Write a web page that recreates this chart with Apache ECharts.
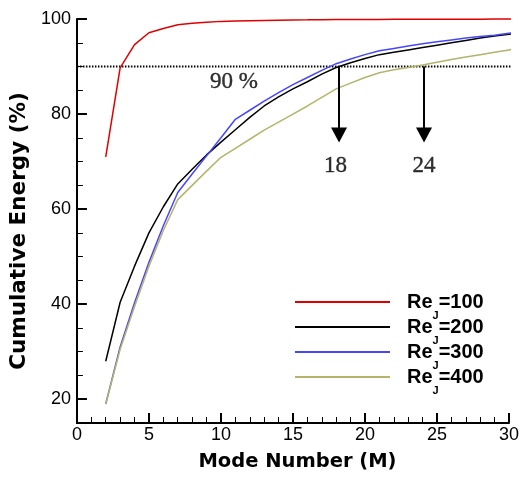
<!DOCTYPE html>
<html>
<head>
<meta charset="utf-8">
<script src="https://cdn.jsdelivr.net/npm/echarts@6/dist/echarts.min.js"></script>
<style>
html,body{margin:0;padding:0;background:#fff;}
#chart{width:530px;height:479px;}
</style>
</head>
<body>
<div id="chart"></div>
<script>
// ---- data ----
const modes = [2,3,4,5,6,7,8,9,10,11,12,13,14,15,16,17,18,19,20,21,22,23,24,25,26,27,28,29,30,30.5];
const re100 = [71.0,89.7,94.6,97.1,98.0,98.8,99.1,99.3,99.5,99.6,99.65,99.7,99.75,99.8,99.82,99.85,99.87,99.9,99.9,99.92,99.93,99.94,99.95,99.95,99.96,99.97,99.97,99.98,99.98,99.98];
const re200 = [28.0,40.4,48.0,55.0,60.5,65.3,68.4,71.4,74.1,76.7,79.3,81.7,83.6,85.3,86.8,88.4,89.8,90.8,91.7,92.5,93.0,93.5,94.0,94.5,95.0,95.5,96.0,96.4,96.8,97.0];
const re300 = [19.0,31.0,40.3,48.8,56.5,63.5,67.4,71.2,75.0,78.9,80.8,82.7,84.5,86.2,87.7,89.2,90.6,91.6,92.5,93.3,93.8,94.3,94.8,95.2,95.6,96.0,96.3,96.6,97.0,97.2];
const re400 = [19.0,30.5,39.5,48.0,55.5,62.0,65.0,68.0,70.9,72.8,74.7,76.6,78.3,80.0,81.7,83.5,85.3,86.5,87.7,88.7,89.3,89.8,90.3,90.9,91.5,92.0,92.5,93.0,93.5,93.7];
const seriesNames = ['Re_J=100','Re_J=200','Re_J=300','Re_J=400'];
const seriesColors = ['#e00000','#000000','#4646ff','#b4b46a'];
const thresholdValue = 90;
const thresholdSpan = [0, 30.5];
const arrowModes = [18.2, 24.1];
const arrowTipValue = 75.6;
const annotations = [[10.9, 86.8, '90 %'], [17.95, 69.0, '18'], [24.09, 69.0, '24']];
const yMajorTicks = [20,40,60,80,100];
const yMinorTicks = [25,30,35,45,50,55,65,70,75,85,90,95];

const pair = (arr) => modes.map((m, i) => [m, arr[i]]);
const allSeries = [re100, re200, re300, re400];

const chart = echarts.init(document.getElementById('chart'), null, {renderer: 'canvas'});

const lineSeries = allSeries.map((arr, i) => ({
  name: seriesNames[i],
  type: 'line',
  data: pair(arr),
  showSymbol: false,
  symbol: 'none',
  clip: false,
  color: seriesColors[i],
  lineStyle: {width: 1.5, color: seriesColors[i]},
  z: 3
}));

const option = {
  animation: false,
  backgroundColor: '#fff',
  grid: {left: 74, right: 21, top: 19, bottom: 56},
  legend: {
    data: seriesNames,
    orient: 'vertical',
    left: 295,
    top: 292,
    padding: 0,
    itemWidth: 95,
    itemHeight: 2,
    itemGap: -4.5,
    icon: 'rect',
    formatter: function (name) {
      const v = name.split('=')[1];
      return '{b|Re}{s|J}{b|=' + v + '}';
    },
    textStyle: {
      padding: [0, 0, 0, 12],
      rich: {
        b: {fontFamily: 'Liberation Sans', fontWeight: 'bold', fontSize: 20, lineHeight: 25, verticalAlign: 'middle', color: '#000'},
        s: {fontFamily: 'Liberation Sans', fontWeight: 'bold', fontSize: 11, lineHeight: 11, verticalAlign: 'middle', padding: [14, 0, -14, 0], color: '#000'}
      }
    }
  },
  xAxis: {
    type: 'value',
    min: 0, max: 30, interval: 5,
    name: 'Mode Number (M)',
    nameLocation: 'middle',
    nameGap: 29,
    nameTextStyle: {fontFamily: 'DejaVu Sans', fontWeight: 'bold', fontSize: 19.5, color: '#000', padding: [0,0,0,9]},
    axisLine: {show: true, lineStyle: {color: '#000', width: 2}},
    axisTick: {show: true, inside: true, length: 10, lineStyle: {color: '#000', width: 2}},
    minorTick: {show: true, splitNumber: 5, length: 6, lineStyle: {color: '#000', width: 1}},
    axisLabel: {fontFamily: 'Liberation Sans', fontSize: 18, color: '#000', margin: 3},
    splitLine: {show: false},
    minorSplitLine: {show: false}
  },
  yAxis: [{
    type: 'value',
    min: 15, max: 100,
    name: 'Cumulative Energy (%)',
    nameLocation: 'middle',
    nameGap: 40,
    nameTextStyle: {fontFamily: 'DejaVu Sans', fontWeight: 'bold', fontSize: 21.5, color: '#000', padding: [0,20,0,0]},
    axisLine: {show: true, lineStyle: {color: '#000', width: 2}},
    axisTick: {show: true, inside: true, length: 10, customValues: yMajorTicks, lineStyle: {color: '#000', width: 2}},
    axisLabel: {fontFamily: 'Liberation Sans', fontSize: 18, color: '#000', margin: 6, customValues: yMajorTicks},
    splitLine: {show: false}
  }, {
    type: 'value',
    min: 15, max: 100,
    position: 'left',
    axisLine: {show: false},
    axisTick: {show: true, inside: true, length: 6, customValues: yMinorTicks, lineStyle: {color: '#000', width: 1}},
    axisLabel: {show: false},
    splitLine: {show: false}
  }],
  series: lineSeries.concat([
    {
      name: 'threshold',
      type: 'line',
      data: thresholdSpan.map(x => [x, thresholdValue]),
      showSymbol: false,
      symbol: 'none',
      clip: false,
      lineStyle: {color: '#000', width: 2, type: [1.5, 1.5]},
      z: 2,
      markLine: {
        silent: true,
        symbol: ['none', 'triangle'],
        symbolSize: [16, 15],
        label: {show: false},
        lineStyle: {color: '#000', width: 2, type: 'solid'},
        itemStyle: {color: '#000'},
        data: arrowModes.map(m => [{coord: [m, thresholdValue]}, {coord: [m, arrowTipValue]}])
      }
    },
    {
      name: 'notes',
      type: 'scatter',
      data: annotations,
      symbolSize: 1,
      itemStyle: {color: 'rgba(0,0,0,0)'},
      silent: true,
      label: {
        show: true,
        position: 'inside',
        formatter: p => p.value[2],
        fontFamily: 'Liberation Serif',
        fontSize: 23,
        color: '#000',
        textBorderColor: '#000',
        textBorderWidth: 0.4
      }
    }
  ])
};
chart.setOption(option);
</script>
</body>
</html>
